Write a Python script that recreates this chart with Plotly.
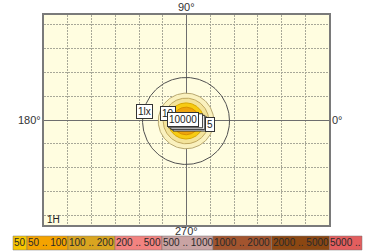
import numpy as np
import plotly.graph_objects as go

# ---- data ----
iso_levels = ["1lx", "5", "10", "50", "100", "10000"]
iso_radii = [1.83, 1.17, 0.96, 0.76, 0.58, 0.35]   # radius of each isolux line (grid units)
iso_center = [-0.02, -0.04]

legend_labels = ["50", "50 .. 100", "100 .. 200", "200 .. 500", "500 .. 1000",
                 "1000 .. 2000", "2000 .. 5000", "5000 .."]
legend_colors = ["#F7C600", "#F4A300", "#D9A520", "#F38380", "#C9A3A3",
                 "#A2542E", "#8B4712", "#E35E5E"]
legend_edges_px = [13, 27, 68, 115, 162, 213, 271.5, 329.5, 362]

angle_labels = ["90°", "180°", "0°", "270°"]
height_label = "1H"

# ---- styles ----
fills = [None, "#FAF1BE", "#F3E39A", "#F7CB12", "#EFA40C", "#D9A520"]
lines = ["#505050", "#B8A870", "#C0A860", "#D8A800", "#D89000", "#B08010"]

W, H = 366, 251
L, R, T, B = 44, 37, 15, 26
pw, ph = W - L - R, H - T - B
upx = 12 / pw  # grid units per pixel (x range 12 units)

fig = go.Figure()
t = np.linspace(0, 2 * np.pi, 181)
for lvl, r, fc, lc in zip(iso_levels, iso_radii, fills, lines):
    xs = iso_center[0] + r * np.cos(t)
    ys = iso_center[1] + r * np.sin(t)
    fig.add_trace(go.Scatter(
        x=xs, y=ys, mode="lines",
        line=dict(color=lc, width=1),
        fill="toself" if fc else None,
        fillcolor=fc, hoverinfo="skip", showlegend=False, name=lvl))

ann = []
shapes = []
lf = dict(family="Liberation Sans", size=10, color="#222")

def box(text, x, y):
    ann.append(dict(x=x, y=y, xref="x", yref="y", text=text, showarrow=False,
                    xanchor="center", yanchor="middle",
                    font=lf, bgcolor="white", bordercolor="#333",
                    borderwidth=1, borderpad=1))

box("1lx", -1.77, 0.34)
box("10", -0.80, 0.29)
# stacked label boxes behind the "10000" label
mx, my, bw, bh = -0.13, 0.034, 34 * upx, 14 * upx
for k in range(3, 0, -1):
    dx, dy = 2.2 * k * upx, -1.6 * k * upx
    shapes.append(dict(type="rect", xref="x", yref="y",
                       x0=mx - bw / 2 + dx, x1=mx + bw / 2 + dx,
                       y0=my - bh / 2 + dy, y1=my + bh / 2 + dy,
                       fillcolor="white", line=dict(color="#333", width=1), layer="above"))
box("10000", mx, my)
box("5", 0.98, -0.21)

tf = dict(family="Liberation Sans", size=11, color="#333")
ann.append(dict(x=0.5, y=1, xref="paper", yref="paper", xanchor="center", yanchor="bottom",
                yshift=0, text=angle_labels[0], showarrow=False, font=tf))
ann.append(dict(x=0, y=0.5, xref="paper", yref="paper", xanchor="right", yanchor="middle",
                xshift=-1, text=angle_labels[1], showarrow=False, font=tf))
ann.append(dict(x=1, y=0.5, xref="paper", yref="paper", xanchor="left", yanchor="middle",
                xshift=1, text=angle_labels[2], showarrow=False, font=tf))
ann.append(dict(x=0.5, y=0, xref="paper", yref="paper", xanchor="center", yanchor="top",
                yshift=2, text=angle_labels[3], showarrow=False, font=tf))
ann.append(dict(x=(53 - L) / pw, y=(T + ph - 219) / ph, xref="paper", yref="paper",
                xanchor="center", yanchor="middle",
                text=height_label, showarrow=False,
                font=dict(family="Liberation Sans", size=10, color="#222")))

y0p, y1p = (T + ph - 250) / ph, (T + ph - 236) / ph
for i, (lab, col) in enumerate(zip(legend_labels, legend_colors)):
    x0 = (legend_edges_px[i] - L) / pw
    x1 = (legend_edges_px[i + 1] - L) / pw
    shapes.append(dict(type="rect", xref="paper", yref="paper", x0=x0, x1=x1,
                       y0=y0p, y1=y1p, fillcolor=col, line=dict(color="#777", width=0.5),
                       layer="above"))
    ann.append(dict(x=(x0 + x1) / 2, y=(y0p + y1p) / 2, xref="paper", yref="paper",
                    xanchor="center", yanchor="middle",
                    text=lab, showarrow=False,
                    font=dict(family="Liberation Sans", size=10, color="#2a2a2a")))

ax = dict(showticklabels=False, ticks="", dtick=1, tick0=0,
          showgrid=True, gridcolor="#A8A898", gridwidth=1, griddash="2px,1px",
          zeroline=True, zerolinecolor="#6E6E6E", zerolinewidth=1,
          showline=True, linecolor="#7A7A7A", linewidth=1.5, mirror=True,
          fixedrange=True)

fig.update_layout(
    width=W, height=H, margin=dict(l=L, r=R, t=T, b=B),
    paper_bgcolor="white", plot_bgcolor="#FFFDE0",
    xaxis=dict(range=[-6, 6], **ax),
    yaxis=dict(range=[-4.42, 4.42], **ax),
    annotations=ann, shapes=shapes, showlegend=False)

fig.write_html("out.html", config={"displayModeBar": False},
               post_script="document.body.style.margin='0';document.body.style.overflow='hidden';")
